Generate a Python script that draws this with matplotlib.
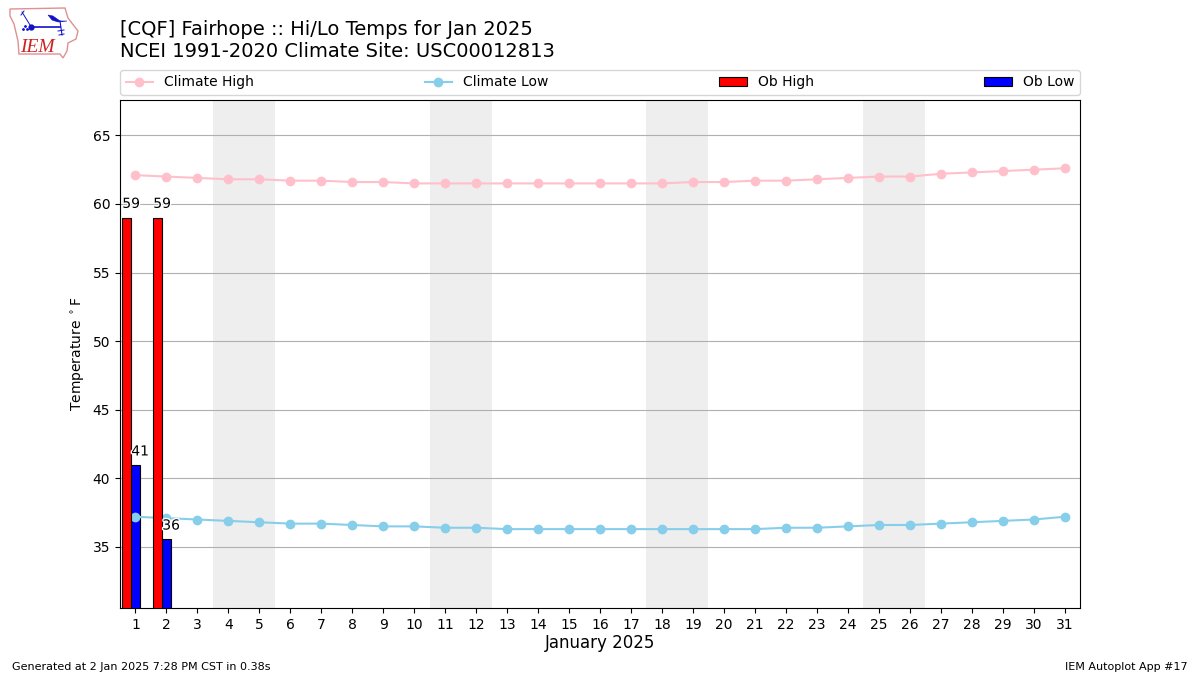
import matplotlib
matplotlib.use("Agg")
import matplotlib.pyplot as plt
import matplotlib.patheffects as pe
from matplotlib.patches import Polygon

days = list(range(1, 32))
climate_high = [62.1,62.0,61.9,61.8,61.8,61.7,61.7,61.6,61.6,61.5,61.5,61.5,61.5,61.5,61.5,61.5,61.5,61.5,61.6,61.6,61.7,61.7,61.8,61.9,62.0,62.0,62.2,62.3,62.4,62.5,62.6]
climate_low = [37.2,37.1,37.0,36.9,36.8,36.7,36.7,36.6,36.5,36.5,36.4,36.4,36.3,36.3,36.3,36.3,36.3,36.3,36.3,36.3,36.3,36.4,36.4,36.5,36.6,36.6,36.7,36.8,36.9,37.0,37.2]
ob_days = [1, 2]
ob_high = [59, 59]
ob_low = [41, 35.6]
weekend_starts = [4, 11, 18, 25]

fig = plt.figure(figsize=(12, 6.75), dpi=100)
ax = fig.add_axes([120/1200, 1-608/675, 960/1200, 508/675])
for d in weekend_starts:
    ax.axvspan(d-0.5, d+1.5, color="#eeeeee", zorder=0, lw=0)
ax.grid(axis="y", color="#b0b0b0", lw=0.8, zorder=1)
ax.set_axisbelow(True)
bar_w = 0.29
bh = ax.bar([d-0.28 for d in ob_days], ob_high, width=bar_w, color="red", edgecolor="black", lw=0.8, zorder=4, label="Ob High")
bl = ax.bar([d+0.01 for d in ob_days], ob_low, width=bar_w, color="blue", edgecolor="black", lw=0.8, zorder=2, label="Ob Low")
lh, = ax.plot(days, climate_high, "-o", color="pink", ms=6, zorder=3, label="Climate High")
ll, = ax.plot(days, climate_low, "-o", color="skyblue", ms=6, zorder=3, label="Climate Low")
halo = [pe.withStroke(linewidth=2, foreground="white")]
for d, v in zip(ob_days, ob_high):
    ax.text(d-0.28-bar_w/2, v+0.5, f"{v:.0f}", ha="left", va="bottom", fontsize=10, zorder=6, path_effects=halo)
for d, v in zip(ob_days, ob_low):
    ax.text(d+0.01-bar_w/2, v+0.45, f"{v:.0f}", ha="left", va="bottom", fontsize=10, zorder=6, path_effects=halo)
ax.set_xlim(0.5, 31.5)
ax.set_ylim(30.55, 67.58)
ax.set_xticks(days)
ax.set_yticks([35,40,45,50,55,60,65])
ax.tick_params(labelsize=10)
ax.set_ylabel("Temperature $^\\circ$F", fontsize=10)
ax.set_xlabel("January 2025", fontsize=12, labelpad=2)
fig.legend(handles=[lh, ll, bh, bl], loc="lower left", bbox_to_anchor=(120/1200, 1-95/675, 960/1200, 25/675), mode="expand", ncol=4, fontsize=10, frameon=True, borderaxespad=0)
fig.text(120/1200, 1-61/675, "[CQF] Fairhope :: Hi/Lo Temps for Jan 2025\nNCEI 1991-2020 Climate Site: USC00012813", fontsize=14, va="bottom", linespacing=1.2)
fig.text(12/1200, 1-672/675, "Generated at 2 Jan 2025 7:28 PM CST in 0.38s", fontsize=8, va="bottom")
fig.text(1188/1200, 1-672/675, "IEM Autoplot App #17", fontsize=8, va="bottom", ha="right")

# logo, drawn in pixel coordinates of the figure
logo = fig.add_axes([0, 0, 1, 1], zorder=10)
logo.axis("off"); logo.patch.set_alpha(0)
logo.set_xlim(0, 1200); logo.set_ylim(675, 0)
logo.add_patch(Polygon([(10,9),(65,8),(68,18),(78,31),(76,39),(68,43),(67,51),(63,58),(60,54),(19,54),(18,41),(14,24),(10,16)], closed=True, fill=False, ec="#e09090", lw=1))
blue = "#1111cc"
logo.plot([31,60],[27,27], color=blue, lw=1.2)
logo.plot([31],[27], "o", color=blue, ms=3.5)
logo.plot([22,30],[12,25], color=blue, lw=0.7)
logo.plot([21,24],[15,11], color=blue, lw=0.7)
logo.add_patch(Polygon([(48,15),(53,16),(60,21),(67,21),(58,22),(52,20)], closed=True, fc=blue, ec=blue, lw=0.4))
logo.plot([60,62],[21,35], color=blue, lw=0.8)
logo.plot([58,64],[31,30], color=blue, lw=0.7)
logo.plot([59,64],[35,34], color=blue, lw=0.7)
logo.plot([23,25,27],[29,26,29], ".", color=blue, ms=2)
logo.text(20.5, 52, "IEM", color="#cc2222", fontsize=14, family="Liberation Serif", style="italic", va="baseline")
fig.savefig("out.png", dpi=100)
